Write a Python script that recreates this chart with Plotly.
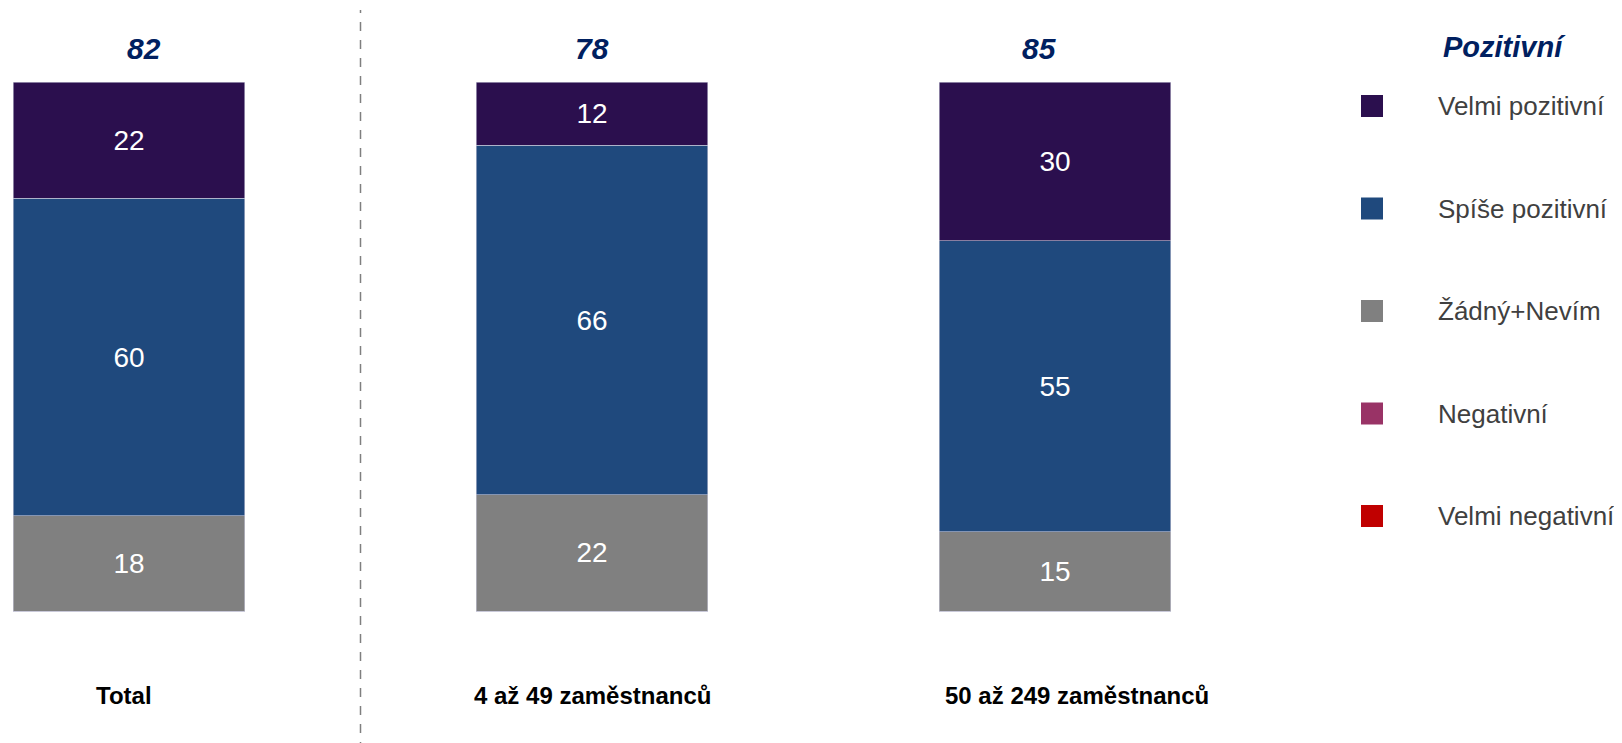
import plotly.graph_objects as go

# data
categories = ["Total", "4 až 49 zaměstnanců", "50 až 249 zaměstnanců"]
velmi_pozitivni = [22, 12, 30]
spise_pozitivni = [60, 66, 55]
zadny_nevim = [18, 22, 15]
negativni = [0, 0, 0]
velmi_negativni = [0, 0, 0]

series_names = ["Velmi pozitivní", "Spíše pozitivní", "Žádný+Nevím", "Negativní", "Velmi negativní"]
series_values = [velmi_pozitivni, spise_pozitivni, zadny_nevim, negativni, velmi_negativni]
colors = ["#2B0F4E", "#1F497D", "#808080", "#993366", "#C00000"]

# "Pozitivní" = Velmi + Spíše pozitivní
pozitivni = [a + b for a, b in zip(velmi_pozitivni, spise_pozitivni)]

FONT = "Arial, Liberation Sans, sans-serif"
W, H = 1622, 743

fig = go.Figure()

# stack from the bottom up
for name, vals, col in reversed(list(zip(series_names, series_values, colors))):
    fig.add_trace(go.Bar(
        x=categories, y=vals, name=name,
        marker=dict(color=col, line=dict(color="#c8c8d8", width=0.6)),
        width=0.5,
        text=[str(v) if v else "" for v in vals],
        textposition="inside", insidetextanchor="middle",
        textfont=dict(color="white", size=28, family=FONT),
        showlegend=False, hoverinfo="name+y",
    ))

# totals on top (the original boxes aren't quite centred)
total_shift = [15, 0, -16]
for cat, tot, tall, dx in zip(categories, pozitivni, [sum(s) for s in zip(*series_values)], total_shift):
    fig.add_annotation(x=cat, y=tall, yshift=34, xshift=dx, text="<b><i>%d</i></b>" % tot,
                       showarrow=False, font=dict(size=30, color="#002060", family=FONT))

# category labels under the bars
label_shift = [-5, 0, 22]
for cat, dx in zip(categories, label_shift):
    fig.add_annotation(x=cat, y=0, yshift=-84, text="<b>%s</b>" % cat, xshift=dx,
                       showarrow=False, font=dict(size=24, color="black", family=FONT))

# dashed separator between Total and the groups
fig.add_shape(type="line", xref="x", yref="paper", x0=0.5, x1=0.5,
              y0=0, y1=1 - 2 / H, line=dict(color="#7f7f7f", width=1.5, dash="dash"))

# legend drawn by hand (big squares, wide spacing)
fig.add_annotation(xref="paper", yref="paper", x=1433 / W, y=1 - 39 / H,
                   xanchor="left", yanchor="middle", showarrow=False,
                   text="<b><i>Pozitivní</i></b>",
                   font=dict(size=29, color="#002060", family=FONT))
for k, (name, col) in enumerate(zip(series_names, colors)):
    yc = 98 + k * 102.5
    fig.add_shape(type="rect", xref="paper", yref="paper",
                  x0=1353 / W, x1=1375 / W, y0=1 - (yc - 11) / H, y1=1 - (yc + 11) / H,
                  fillcolor=col, line=dict(width=0))
    fig.add_annotation(xref="paper", yref="paper", x=1428 / W, y=1 - yc / H,
                       xanchor="left", yanchor="middle", showarrow=False, text=name,
                       font=dict(size=26, color="#404040", family=FONT))

# page has an 8px body margin, so work in figure px: px = 121 + 463*x
x0 = -121 / 463
x1 = (W - 121) / 463
# py = 603 - 5.29*v
y_lo = (603 - H) / 5.29
y_hi = 603 / 5.29

fig.update_layout(
    width=W, height=H, barmode="stack",
    margin=dict(l=0, r=0, t=0, b=0),
    plot_bgcolor="white", paper_bgcolor="white",
    xaxis=dict(range=[x0, x1], visible=False, type="category",
               categoryorder="array", categoryarray=categories),
    yaxis=dict(range=[y_lo, y_hi], visible=False),
    font=dict(family=FONT),
)

fig.write_html("out.html")
